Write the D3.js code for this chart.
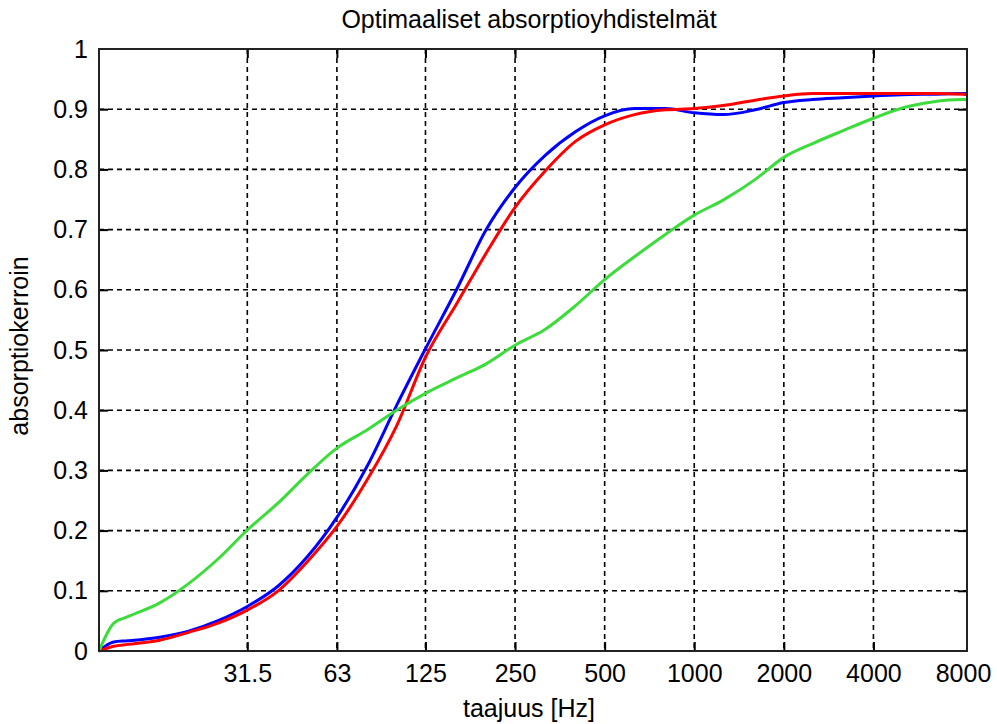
<!DOCTYPE html>
<html>
<head>
<meta charset="utf-8">
<script src="https://cdn.jsdelivr.net/npm/d3@7/dist/d3.min.js"></script>
<style>
  body { margin: 0; background: #fff; }
  svg { display: block; }
  text { font-family: "Liberation Sans", Arial, sans-serif; fill: #000; }
</style>
</head>
<body>
<script>
// Frequencies (Hz) at which the absorption coefficients are sampled
const freqs = [10, 11.2, 12.5, 16, 20, 25, 31.5, 40, 50, 63, 80, 100, 125, 160, 200, 250,
               315, 400, 500, 630, 800, 1000, 1250, 1600, 2000, 2500, 3150, 4000, 5000, 6300, 8000, 8250];

// Absorption coefficient of each combination
const blueSeries  = [0, 0.015, 0.017, 0.023, 0.033, 0.050, 0.074, 0.108, 0.156, 0.222, 0.309, 0.408,
                     0.502, 0.603, 0.700, 0.770, 0.823, 0.863, 0.889, 0.901, 0.901, 0.894, 0.891,
                     0.899, 0.911, 0.916, 0.919, 0.922, 0.924, 0.925, 0.926, 0.926];
const redSeries   = [0, 0.008, 0.011, 0.018, 0.031, 0.046, 0.068, 0.100, 0.148, 0.207, 0.286, 0.374,
                     0.488, 0.579, 0.661, 0.737, 0.797, 0.847, 0.874, 0.891, 0.899, 0.901, 0.906,
                     0.915, 0.922, 0.926, 0.926, 0.926, 0.926, 0.926, 0.925, 0.924];
const greenSeries = [0, 0.046, 0.057, 0.080, 0.112, 0.152, 0.201, 0.246, 0.293, 0.337, 0.368, 0.400,
                     0.428, 0.454, 0.477, 0.508, 0.534, 0.574, 0.617, 0.655, 0.692, 0.724, 0.749,
                     0.783, 0.820, 0.843, 0.864, 0.885, 0.902, 0.912, 0.916, 0.916];

const xTicks = [31.5, 63, 125, 250, 500, 1000, 2000, 4000, 8000];
const xTickLabels = ["31.5", "63", "125", "250", "500", "1000", "2000", "4000", "8000"];
const yTicks = [0, 0.1, 0.2, 0.3, 0.4, 0.5, 0.6, 0.7, 0.8, 0.9, 1];
const yTickLabels = ["0", "0.1", "0.2", "0.3", "0.4", "0.5", "0.6", "0.7", "0.8", "0.9", "1"];

(function () {
  const W = 997, H = 724;
  const plot = { left: 99, right: 967, top: 49, bottom: 651 };
  const FONT = 25;

  const x = d3.scaleLog().domain([10, 8250]).range([plot.left, plot.right]);
  const y = d3.scaleLinear().domain([0, 1]).range([plot.bottom, plot.top]);

  const svg = d3.select("body").append("svg").attr("width", W).attr("height", H);
  svg.append("rect").attr("width", W).attr("height", H).attr("fill", "#fff");

  // ticks lying on the frame are drawn by the frame itself
  const innerX = xTicks.filter(t => x(t) > plot.left + 6 && x(t) < plot.right - 6);
  const innerY = yTicks.filter(t => y(t) < plot.bottom - 6 && y(t) > plot.top + 6);

  // dashed grid
  const grid = svg.append("g").attr("stroke", "#000").attr("stroke-width", 1.6)
    .attr("stroke-dasharray", "5,4");
  grid.selectAll("line.gx").data(innerX).join("line").attr("class", "gx")
    .attr("x1", d => x(d)).attr("x2", d => x(d))
    .attr("y1", plot.top).attr("y2", plot.bottom);
  grid.selectAll("line.gy").data(innerY).join("line").attr("class", "gy")
    .attr("x1", plot.left).attr("x2", plot.right)
    .attr("y1", d => y(d)).attr("y2", d => y(d));

  // axes: inward ticks on all four sides
  function styleAxis(g) {
    g.select(".domain").remove();
    g.selectAll(".tick line").attr("stroke", "#000").attr("stroke-width", 2);
    g.selectAll(".tick text").attr("font-size", FONT).attr("font-family", null).attr("fill", "#000");
  }
  function dropEdgeTicks(g, inner) {
    g.selectAll(".tick").filter(d => !inner.includes(d)).select("line").remove();
  }

  const axBottom = svg.append("g").attr("transform", `translate(0,${plot.bottom})`)
    .call(d3.axisBottom(x).tickValues(xTicks).tickFormat((d, i) => xTickLabels[i])
          .tickSize(-9).tickPadding(13));
  styleAxis(axBottom); dropEdgeTicks(axBottom, innerX);

  const axTop = svg.append("g").attr("transform", `translate(0,${plot.top})`)
    .call(d3.axisTop(x).tickValues(innerX).tickFormat("").tickSize(-9));
  styleAxis(axTop);

  const axLeft = svg.append("g").attr("transform", `translate(${plot.left},0)`)
    .call(d3.axisLeft(y).tickValues(yTicks).tickFormat((d, i) => yTickLabels[i])
          .tickSize(-9).tickPadding(11));
  styleAxis(axLeft); dropEdgeTicks(axLeft, innerY);

  const axRight = svg.append("g").attr("transform", `translate(${plot.right},0)`)
    .call(d3.axisRight(y).tickValues(innerY).tickFormat("").tickSize(-9));
  styleAxis(axRight);

  // curves
  const line = d3.line().x(d => x(d[0])).y(d => y(d[1])).curve(d3.curveMonotoneX);
  const series = [
    { values: blueSeries, color: "#0000ff" },
    { values: redSeries, color: "#ff0000" },
    { values: greenSeries, color: "#3cdc3c" }
  ];
  svg.append("g").selectAll("path").data(series).join("path")
    .attr("d", s => line(freqs.map((f, i) => [f, s.values[i]])))
    .attr("fill", "none").attr("stroke", s => s.color).attr("stroke-width", 3)
    .attr("stroke-linejoin", "round");

  // frame
  svg.append("rect")
    .attr("x", plot.left).attr("y", plot.top)
    .attr("width", plot.right - plot.left).attr("height", plot.bottom - plot.top)
    .attr("fill", "none").attr("stroke", "#222").attr("stroke-width", 2);

  // titles
  svg.append("text").attr("x", 529).attr("y", 28).attr("text-anchor", "middle")
    .attr("font-size", FONT).text("Optimaaliset absorptioyhdistelmät");
  svg.append("text").attr("x", 529).attr("y", 717).attr("text-anchor", "middle")
    .attr("font-size", FONT).text("taajuus [Hz]");
  svg.append("text").attr("transform", "translate(28,346) rotate(-90)").attr("text-anchor", "middle")
    .attr("font-size", FONT).text("absorptiokerroin");
})();
</script>
</body>
</html>
